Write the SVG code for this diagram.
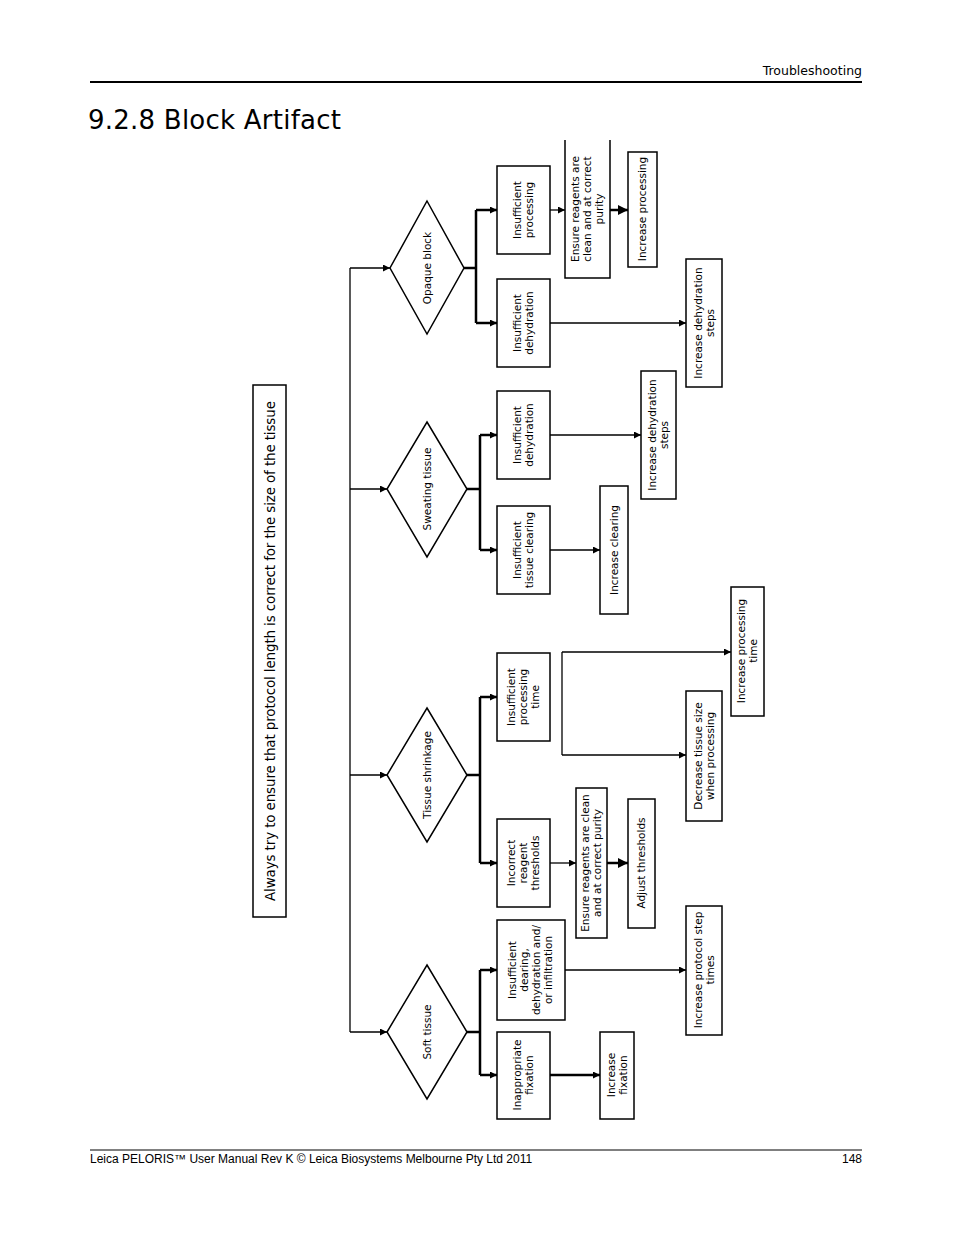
<svg xmlns="http://www.w3.org/2000/svg" width="954" height="1235" viewBox="0 0 954 1235">
<style>
.b{fill:#fff;stroke:#000;stroke-width:1.5}
.t{font-family:"DejaVu Sans",Verdana,sans-serif;font-size:10.5px;text-anchor:middle}
.c{fill:none;stroke:#000;stroke-width:1.3}
.k{fill:none;stroke:#000;stroke-width:2.5}
.h{font-family:"DejaVu Sans",Verdana,sans-serif}
</style>
<defs>
<marker id="a" viewBox="0 0 10 10" refX="10" refY="5" markerWidth="7" markerHeight="7" markerUnits="userSpaceOnUse" orient="auto"><path d="M0,0L10,5L0,10z"/></marker>
<marker id="a2" viewBox="0 0 10 10" refX="10" refY="5" markerWidth="10" markerHeight="10" markerUnits="userSpaceOnUse" orient="auto"><path d="M0,0L10,5L0,10z"/></marker>
</defs>
<rect width="954" height="1235" fill="#fff"/>
<text x="862" y="75" class="h" font-size="12.5" text-anchor="end">Troubleshooting</text>
<line x1="90" y1="82" x2="862" y2="82" stroke="#000" stroke-width="2"/>
<text x="88" y="129" class="h" font-size="26" textLength="253">9.2.8  Block Artifact</text>
<line x1="90" y1="1150" x2="862" y2="1150" stroke="#000" stroke-width="1"/>
<text x="90" y="1163" font-family="Liberation Sans,Arial,sans-serif" font-size="12">Leica PELORIS™ User Manual Rev K © Leica Biosystems Melbourne Pty Ltd 2011</text>
<text x="862" y="1163" font-family="Liberation Sans,Arial,sans-serif" font-size="12" text-anchor="end">148</text>

<g id="connectors">
<path class="c" d="M350,268V1032" stroke-width="1.6"/>
<path class="c" d="M350,268H390" marker-end="url(#a)"/>
<path class="c" d="M350,489H387" marker-end="url(#a)"/>
<path class="c" d="M350,775H387" marker-end="url(#a)"/>
<path class="c" d="M350,1032H387" marker-end="url(#a)"/>
<path class="k" d="M464,268H476M476,210V323" stroke-width="2"/>
<path class="k" d="M476,210H497" stroke-width="2" marker-end="url(#a)"/>
<path class="k" d="M476,323H497" stroke-width="2" marker-end="url(#a)"/>
<path class="c" d="M550,210H565" marker-end="url(#a)"/>
<path class="k" d="M610,210H628" marker-end="url(#a2)"/>
<path class="c" d="M550,323H686" marker-end="url(#a)"/>
<path class="k" d="M467,489H480M480,435V550" stroke-width="2"/>
<path class="k" d="M480,435H497" stroke-width="2" marker-end="url(#a)"/>
<path class="k" d="M480,550H497" stroke-width="2" marker-end="url(#a)"/>
<path class="c" d="M550,435H641" marker-end="url(#a)"/>
<path class="c" d="M550,550H600" marker-end="url(#a)"/>
<path class="k" d="M467,775H480M480,697V863" stroke-width="2"/>
<path class="k" d="M480,697H497" stroke-width="2" marker-end="url(#a)"/>
<path class="k" d="M480,863H497" stroke-width="2" marker-end="url(#a)"/>
<path class="c" d="M562,652V755"/>
<path class="c" d="M562,652H731" marker-end="url(#a)"/>
<path class="c" d="M562,755H686" marker-end="url(#a)"/>
<path class="c" d="M550,863H576" marker-end="url(#a)"/>
<path class="k" d="M607,863H628" marker-end="url(#a2)"/>
<path class="k" d="M467,1032H480M480,970V1075" stroke-width="2"/>
<path class="k" d="M480,970H497" stroke-width="2" marker-end="url(#a)"/>
<path class="k" d="M480,1075H497" stroke-width="2" marker-end="url(#a)"/>
<path class="c" d="M565,970H686" marker-end="url(#a)"/>
<path class="k" d="M550,1075H600" marker-end="url(#a)"/>
</g>

<g id="note"><rect class="b" x="253" y="385" width="33" height="532"/>
<text class="h" font-size="13.5" text-anchor="middle" transform="translate(270,651) rotate(-90)" dy="5" textLength="500">Always try to ensure that protocol length is correct for the size of the tissue</text></g>

<g id="opaque"><path class="b" d="M427,201L464,268L427,334L390,268z"/><text class="t" transform="translate(427,268) rotate(-90)" dy="4">Opaque block</text></g>
<g id="sweating"><path class="b" d="M427,422L467,489L427,557L387,489z"/><text class="t" transform="translate(427,489) rotate(-90)" dy="4">Sweating tissue</text></g>
<g id="shrinkage"><path class="b" d="M427,708L467,775L427,842L387,775z"/><text class="t" transform="translate(427,775) rotate(-90)" dy="4">Tissue shrinkage</text></g>
<g id="soft"><path class="b" d="M427,965L467,1032L427,1099L387,1032z"/><text class="t" transform="translate(427,1032) rotate(-90)" dy="4">Soft tissue</text></g>

<g id="ins-proc"><rect class="b" x="497" y="166" width="53" height="88"/><text class="t" transform="translate(523,210) rotate(-90)"><tspan x="0" dy="-2">Insufficient</tspan><tspan x="0" dy="12">processing</tspan></text></g>
<g id="ensure1"><path class="b" d="M565,140V278H610V140"/><text class="t" transform="translate(587,209) rotate(-90)"><tspan x="0" dy="-8">Ensure reagents are</tspan><tspan x="0" dy="12">clean and at correct</tspan><tspan x="0" dy="12">purity</tspan></text></g>
<g id="inc-proc"><rect class="b" x="628" y="152" width="29" height="115"/><text class="t" transform="translate(642,209) rotate(-90)" dy="4">Increase processing</text></g>
<g id="ins-dehyd1"><rect class="b" x="497" y="279" width="53" height="88"/><text class="t" transform="translate(523,323) rotate(-90)"><tspan x="0" dy="-2">Insufficient</tspan><tspan x="0" dy="12">dehydration</tspan></text></g>
<g id="inc-dehyd1"><rect class="b" x="686" y="259" width="36" height="128"/><text class="t" transform="translate(704,323) rotate(-90)"><tspan x="0" dy="-2">Increase dehydration</tspan><tspan x="0" dy="12">steps</tspan></text></g>

<g id="ins-dehyd2"><rect class="b" x="497" y="391" width="53" height="88"/><text class="t" transform="translate(523,435) rotate(-90)"><tspan x="0" dy="-2">Insufficient</tspan><tspan x="0" dy="12">dehydration</tspan></text></g>
<g id="inc-dehyd2"><rect class="b" x="641" y="371" width="35" height="128"/><text class="t" transform="translate(658,435) rotate(-90)"><tspan x="0" dy="-2">Increase dehydration</tspan><tspan x="0" dy="12">steps</tspan></text></g>
<g id="ins-clear"><rect class="b" x="497" y="506" width="53" height="88"/><text class="t" transform="translate(523,550) rotate(-90)"><tspan x="0" dy="-2">Insufficient</tspan><tspan x="0" dy="12">tissue clearing</tspan></text></g>
<g id="inc-clear"><rect class="b" x="600" y="486" width="28" height="128"/><text class="t" transform="translate(614,550) rotate(-90)" dy="4">Increase clearing</text></g>

<g id="ins-time"><rect class="b" x="497" y="653" width="53" height="88"/><text class="t" transform="translate(523,697) rotate(-90)"><tspan x="0" dy="-8">Insufficient</tspan><tspan x="0" dy="12">processing</tspan><tspan x="0" dy="12">time</tspan></text></g>
<g id="inc-time"><rect class="b" x="731" y="587" width="33" height="129"/><text class="t" transform="translate(747,651) rotate(-90)"><tspan x="0" dy="-2">Increase processing</tspan><tspan x="0" dy="12">time</tspan></text></g>
<g id="dec-size"><rect class="b" x="686" y="691" width="36" height="130"/><text class="t" transform="translate(704,756) rotate(-90)"><tspan x="0" dy="-2">Decrease tissue size</tspan><tspan x="0" dy="12">when processing</tspan></text></g>
<g id="incorrect"><rect class="b" x="497" y="819" width="53" height="88"/><text class="t" transform="translate(523,863) rotate(-90)"><tspan x="0" dy="-8">Incorrect</tspan><tspan x="0" dy="12">reagent</tspan><tspan x="0" dy="12">thresholds</tspan></text></g>
<g id="ensure2"><rect class="b" x="576" y="788" width="31" height="150" stroke-width="1"/><text class="t" transform="translate(591,863) rotate(-90)"><tspan x="0" dy="-2">Ensure reagents are clean</tspan><tspan x="0" dy="12">and at correct purity</tspan></text></g>
<g id="adjust"><rect class="b" x="628" y="799" width="27" height="129"/><text class="t" transform="translate(641,863) rotate(-90)" dy="4">Adjust thresholds</text></g>

<g id="ins-clear2"><rect class="b" x="497" y="920" width="68" height="100"/><text class="t" transform="translate(530,970) rotate(-90)"><tspan x="0" dy="-14">Insufficient</tspan><tspan x="0" dy="12">dearing,</tspan><tspan x="0" dy="12">dehydration and/</tspan><tspan x="0" dy="12">or infiltration</tspan></text></g>
<g id="inc-step"><rect class="b" x="686" y="906" width="36" height="129"/><text class="t" transform="translate(704,970) rotate(-90)"><tspan x="0" dy="-2">Increase protocol step</tspan><tspan x="0" dy="12">times</tspan></text></g>
<g id="fixation"><rect class="b" x="497" y="1032" width="53" height="87"/><text class="t" transform="translate(523,1075) rotate(-90)"><tspan x="0" dy="-2">Inappropriate</tspan><tspan x="0" dy="12">fixation</tspan></text></g>
<g id="inc-fix"><rect class="b" x="600" y="1032" width="34" height="87"/><text class="t" transform="translate(617,1075) rotate(-90)"><tspan x="0" dy="-2">Increase</tspan><tspan x="0" dy="12">fixation</tspan></text></g>
</svg>
